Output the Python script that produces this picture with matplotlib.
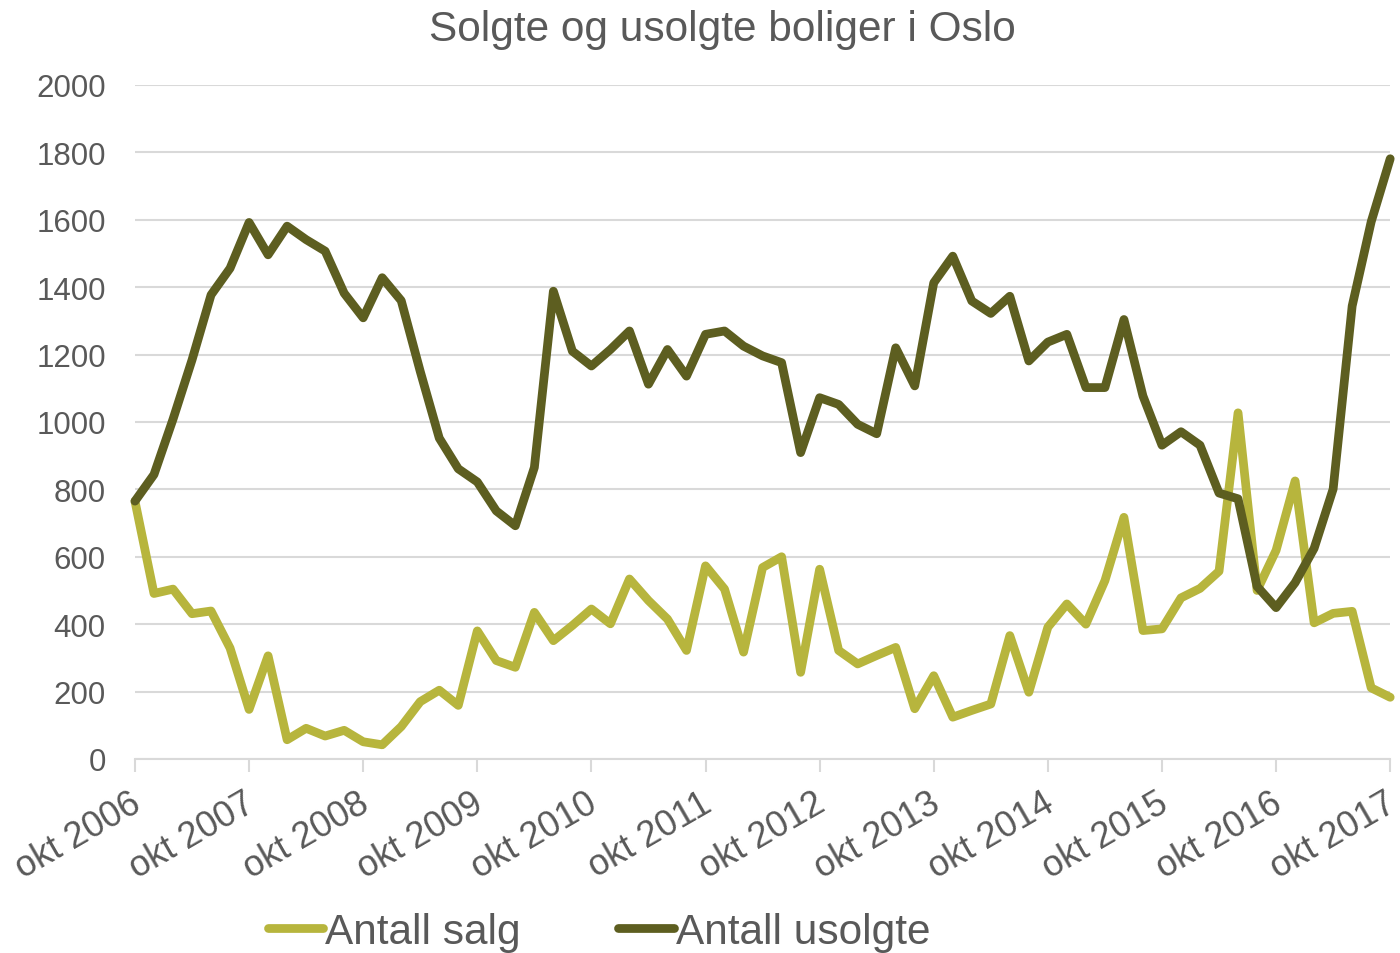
import pandas as pd
import matplotlib.pyplot as plt
from matplotlib.transforms import ScaledTranslation

# bimonthly observations, okt 2006 - okt 2017
dates = pd.date_range('2006-10-01', periods=67, freq='2MS')

antall_salg = [765, 491, 504, 431, 439, 329, 147, 306, 57, 91, 68, 85, 51, 42, 96, 170, 204, 159,
               380, 292, 272, 435, 351, 396, 445, 401, 534, 470, 415, 322, 573, 504, 317, 568, 600,
               257, 563, 322, 282, 307, 331, 149, 247, 124, 144, 163, 366, 198, 391, 460, 400, 529,
               717, 381, 386, 478, 506, 557, 1027, 500, 619, 825, 404, 432, 438, 211, 183]

antall_usolgte = [765, 844, 1008, 1184, 1377, 1456, 1592, 1496, 1581, 1541, 1507, 1382, 1309, 1428,
                  1360, 1150, 952, 861, 822, 736, 692, 865, 1388, 1210, 1166, 1215, 1270, 1112, 1215,
                  1136, 1260, 1270, 1225, 1196, 1176, 909, 1072, 1052, 993, 965, 1220, 1107, 1413,
                  1492, 1359, 1322, 1373, 1181, 1237, 1260, 1102, 1102, 1304, 1077, 931, 971, 931,
                  789, 772, 512, 449, 523, 625, 801, 1344, 1594, 1781]

yticks = [0, 200, 400, 600, 800, 1000, 1200, 1400, 1600, 1800, 2000]

light = '#b7b53d'
dark = '#5d5e20'
txt = '#595959'
grid = '#d9d9d9'

plt.rcParams['font.family'] = ['Liberation Sans', 'DejaVu Sans']

fig = plt.figure(figsize=(14, 9.54), dpi=100)
ax = fig.add_axes([0.0964, 0.2034, 0.8966, 0.7065])

x = list(range(len(dates)))
ax.plot(x, antall_salg, color=light, lw=6.3, solid_joinstyle='round', solid_capstyle='round',
        label='Antall salg', clip_on=False)
ax.plot(x, antall_usolgte, color=dark, lw=6.3, solid_joinstyle='round', solid_capstyle='round',
        label='Antall usolgte', clip_on=False)

ax.set_xlim(0, len(dates) - 1)
ax.set_ylim(0, 2000)
ax.set_yticks(yticks)
ax.set_yticklabels([str(v) for v in yticks])
ax.grid(axis='y', color=grid, lw=1.5)
ax.set_axisbelow(True)

tick_pos = [i for i, d in enumerate(dates) if d.month == 10]
tick_lab = ['okt %d' % dates[i].year for i in tick_pos]
ax.set_xticks(tick_pos)
ax.set_xticklabels(tick_lab, rotation=30, ha='right', rotation_mode='anchor')

for s in ['left', 'right', 'top']:
    ax.spines[s].set_visible(False)
ax.spines['bottom'].set_color(grid)
ax.spines['bottom'].set_linewidth(1.5)
ax.tick_params(axis='y', length=0, labelsize=22.5, labelcolor=txt, pad=21)
ax.tick_params(axis='x', length=9, width=1.5, color=grid, labelsize=26, labelcolor=txt, pad=10)

shift = ScaledTranslation(-4 / 72, 0, fig.dpi_scale_trans)
for lab in ax.get_xticklabels():
    lab.set_transform(lab.get_transform() + shift)

fig.suptitle('Solgte og usolgte boliger i Oslo', x=0.516, y=0.99, va='top', fontsize=30.5, color=txt)

leg = fig.legend(loc='center', bbox_to_anchor=(0.428, 0.022), ncol=2, frameon=False,
                 fontsize=30.5, labelcolor=txt, handlelength=1.3, handletextpad=0.05,
                 columnspacing=2.3)
for h in leg.get_lines():
    h.set_linewidth(6.3)

fig.savefig('out.png', dpi=100)
